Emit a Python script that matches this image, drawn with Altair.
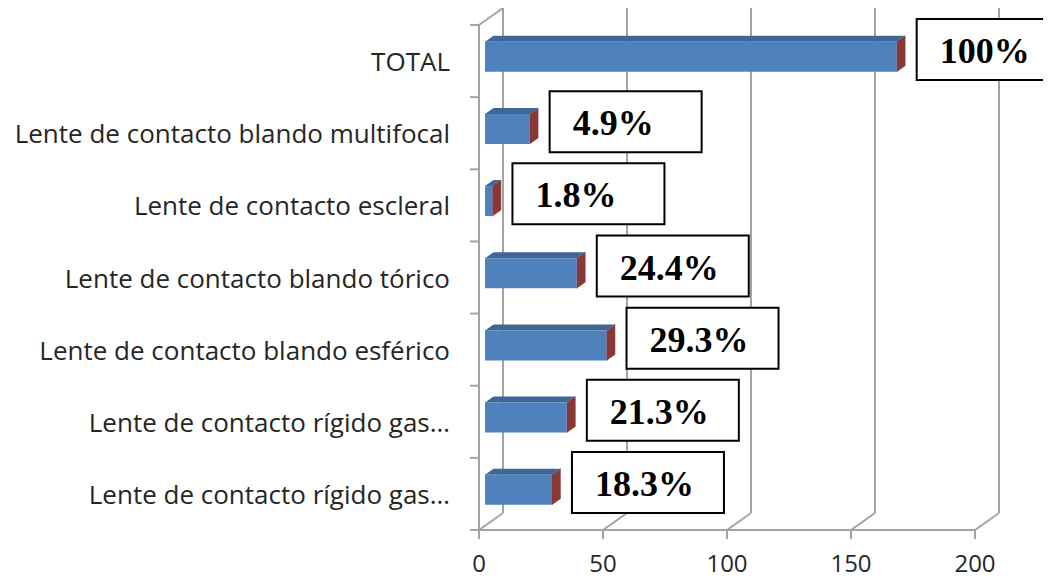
import altair as alt
import numpy as np
import pandas as pd

# ---- data (top to bottom as in the chart) ----
categories = [
    "TOTAL",
    "Lente de contacto blando multifocal",
    "Lente de contacto escleral",
    "Lente de contacto blando tórico",
    "Lente de contacto blando esférico",
    "Lente de contacto rígido gas…",
    "Lente de contacto rígido gas…",
]
counts = [166, 18, 3, 37, 49, 33, 27]
pct_labels = ["100%", "4.9%", "1.8%", "24.4%", "29.3%", "21.3%", "18.3%"]
x_ticks = [0, 50, 100, 150, 200]

# ---- geometry of the pseudo-3D frame ----
W, H = 564, 505
XMAX = 227.42
N = len(categories)
UX = W / XMAX           # px per value unit
UY = H / N              # px per category unit
WALL_DX, WALL_DY = 24, 17   # back wall offset in px
FX, FY = 6 / UX, 4.25 / UY  # bar front-face offset (data units)
DX, DY = 8.5 / UX, 6 / UY   # bar depth (data units)
HALF = 15 / UY              # half bar thickness

GRID = "#A3A3A3"
FONT = "Open Sans"
xs = alt.Scale(domain=[0, XMAX], nice=False, zero=False)
ys = alt.Scale(domain=[0, N], nice=False, zero=False)

bars = pd.DataFrame({
    "cat": categories,
    "value": counts,
    "pct": pct_labels,
    "pos": [N - 1 - k for k in range(N)],
})
bars["mid"] = bars["pos"] + 0.5
bars["cy"] = bars["mid"] + FY
bars["x0"] = FX
bars["x1"] = FX + bars["value"]
bars["y0"] = bars["cy"] - HALF
bars["y1"] = bars["cy"] + HALF
bars["zero"] = 0.0

# bar faces as polygons
side_rows, top_area = [], []
for _, r in bars.iterrows():
    v = float(r["value"])
    p = int(r["pos"])
    x0, x1, y0, y1 = float(r["x0"]), float(r["x1"]), float(r["y0"]), float(r["y1"])
    poly_side = [(x1, y0), (x1, y1), (x1 + DX, y1 + DY), (x1 + DX, y0 + DY), (x1, y0)]
    for j, (px, py) in enumerate(poly_side):
        side_rows.append({"id": p, "o": j, "px": px, "py": py})
    pts = sorted({0.0, v, DX, v + DX})
    for t in pts:
        up = float(np.interp(t, [0, DX, v + DX], [0, DY, DY]))
        lo = float(np.interp(t, [0, v, v + DX], [0, 0, DY]))
        top_area.append({"id": p, "ax": x0 + t, "yu": y1 + up, "yl": y1 + lo})
side_df = pd.DataFrame(side_rows)
top_area_df = pd.DataFrame(top_area)

grid_df = pd.DataFrame({"v": x_ticks, "y0": 0, "y1": N, "lab": [str(t) for t in x_ticks]})
tick_df = pd.DataFrame({"y": list(range(N + 1)), "x": 0})
frame_df = pd.DataFrame({"x0": [0], "x1": [max(x_ticks)], "y0": [0], "y1": [N]})

def X(f):
    return alt.X(f, scale=xs, axis=None)

def Y(f):
    return alt.Y(f, scale=ys, axis=None)

grid = alt.Chart(grid_df).mark_rule(
    color=GRID, strokeWidth=2, xOffset=WALL_DX, yOffset=-WALL_DY, y2Offset=-WALL_DY
).encode(x=X("v:Q"), y=Y("y0:Q"), y2="y1:Q")

floor = alt.Chart(grid_df).mark_rule(
    color=GRID, strokeWidth=2, x2Offset=WALL_DX, y2Offset=-WALL_DY
).encode(x=X("v:Q"), x2="v:Q", y=Y("y0:Q"), y2="y0:Q")

xticks = alt.Chart(grid_df).mark_rule(
    color=GRID, strokeWidth=2, y2Offset=9
).encode(x=X("v:Q"), y=Y("y0:Q"), y2="y0:Q")

xlabels = alt.Chart(grid_df).mark_text(
    baseline="middle", dy=35, font=FONT, fontSize=24, color="#262626"
).encode(x=X("v:Q"), y=Y("y0:Q"), text="lab:N")

corner = alt.Chart(frame_df).mark_rule(
    color=GRID, strokeWidth=2, x2Offset=WALL_DX, y2Offset=-WALL_DY
).encode(x=X("x0:Q"), x2="x0:Q", y=Y("y1:Q"), y2="y1:Q")

front_h = alt.Chart(frame_df).mark_rule(color=GRID, strokeWidth=2).encode(
    x=X("x0:Q"), x2="x1:Q", y=Y("y0:Q"))
front_v = alt.Chart(frame_df).mark_rule(color=GRID, strokeWidth=2).encode(
    x=X("x0:Q"), y=Y("y0:Q"), y2="y1:Q")
yticks = alt.Chart(tick_df).mark_rule(color=GRID, strokeWidth=2, xOffset=-9).encode(
    x=X("x:Q"), x2="x:Q", y=Y("y:Q"))

# bar faces
side = alt.Chart(side_df).mark_line(
    fill="#8A3836", stroke="#8A3836", strokeWidth=0.5
).encode(x=X("px:Q"), y=Y("py:Q"), detail="id:N", order="o:Q")

top_a = alt.Chart(top_area_df).mark_area(
    orient="vertical", color="#3D6896"
).encode(x=X("ax:Q"), y=alt.Y("yu:Q", scale=ys, axis=None, stack=None), y2="yl:Q",
         detail="id:N")

front = alt.Chart(bars).mark_rect(color="#4F81BD").encode(
    x=X("x0:Q"), x2="x1:Q", y=Y("y0:Q"), y2="y1:Q")

cat_text = alt.Chart(bars).mark_text(
    align="right", baseline="middle", dx=-29, dy=2,
    font=FONT, fontSize=26, color="#262626"
).encode(x=X("zero:Q"), y=Y("mid:Q"), text="cat:N")

boxes = alt.Chart(bars).mark_rect(
    fill="white", stroke="black", strokeWidth=2,
    xOffset=26, x2Offset=178, yOffset=-42, y2Offset=19
).encode(x=X("value:Q"), x2="value:Q", y=Y("mid:Q"), y2="mid:Q")

box_text = alt.Chart(bars).mark_text(
    align="left", baseline="middle", dx=49, dy=-9,
    font="Liberation Serif", fontWeight="bold", fontSize=36, color="black"
).encode(x=X("value:Q"), y=Y("mid:Q"), text="pct:N")

chart = alt.layer(
    grid, floor, corner, front_h, front_v, yticks, xticks, xlabels,
    side, top_a, front, cat_text, boxes, box_text
).properties(
    width=W, height=H,
    autosize=alt.AutoSizeParams(type="none"),
    padding={"left": 471, "top": 17, "right": 0, "bottom": 49},
).configure_view(stroke=None)

chart.save("out.html", embed_options={"renderer": "svg", "actions": False})
